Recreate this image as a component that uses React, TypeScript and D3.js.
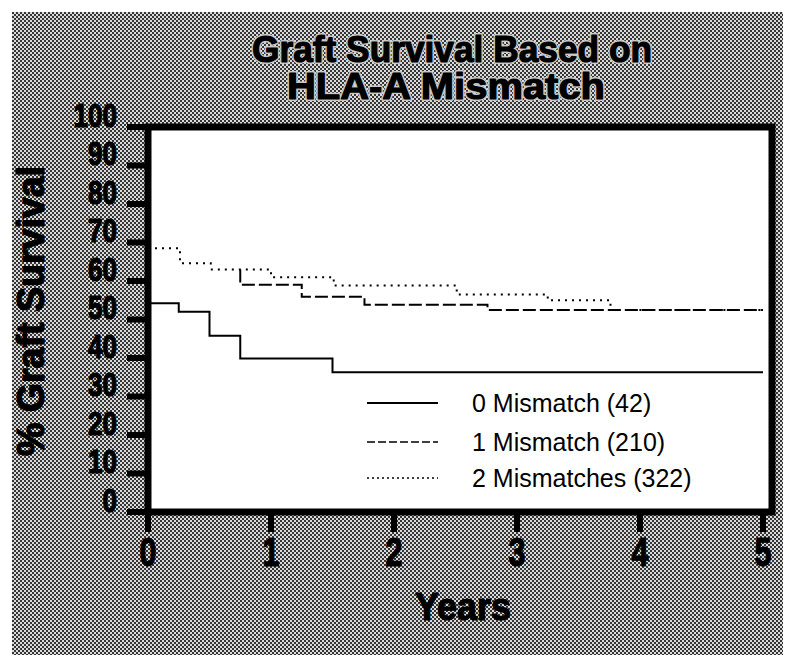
import React from 'react';
import * as d3 from 'd3';

// chart values
const yearTicks = [0, 1, 2, 3, 4, 5];
const pctTicks = [0, 10, 20, 30, 40, 50, 60, 70, 80, 90, 100];

const zeroTime = [0, 0.25, 0.5, 0.75, 1.5, 5];
const zeroPct = [54.2, 52.0, 45.8, 39.9, 36.3, 36.3];

const oneTime = [0.75, 0.75, 1.25, 1.76, 2.76, 5];
const onePct = [63.0, 59.0, 55.9, 53.8, 52.5, 52.5];

const twoTime = [0, 0.26, 0.51, 1.0, 1.51, 2.51, 3.25, 3.76, 5];
const twoPct = [68.5, 64.6, 63.0, 61.0, 58.8, 56.5, 55.0, 52.5, 52.5];

const legendLabels = ['0 Mismatch (42)', '1 Mismatch (210)', '2 Mismatches (322)'];
const titleLines = ['Graft Survival Based on', 'HLA-A Mismatch'];

const W = 789;
const H = 662;
const font = '"Liberation Sans", Arial, Helvetica, sans-serif';

// heavy black text, like the old bold face in the scan
const Heavy = ({ halo, ...p }: any) => (
  <g>
    {halo && <text {...p} fill="none" stroke="#c8c8c8" strokeWidth={4} strokeLinejoin="round" />}
    <text {...p} fill="#000" stroke="#000" strokeWidth={1.2} strokeLinejoin="round" />
  </g>
);

const App = () => {
  const x = d3.scaleLinear().domain([0, 5]).range([148, 763]);
  const y = d3.scaleLinear().domain([0, 100]).range([512, 127]);

  const line = d3.line<[number, number]>()
    .x(d => x(d[0]))
    .y(d => y(d[1]))
    .curve(d3.curveStepAfter);

  const series = [
    { pts: zeroTime.map((t, i) => [t, zeroPct[i]] as [number, number]), dash: null, legendDash: null },
    { pts: oneTime.map((t, i) => [t, onePct[i]] as [number, number]), dash: '13 4', legendDash: '8 3' },
    { pts: twoTime.map((t, i) => [t, twoPct[i]] as [number, number]), dash: '2 5', legendDash: '2 3' },
  ];

  const legendY = [403, 442, 478];

  return (
    <svg width={W} height={H} style={{ position: 'absolute', left: 0, top: 0, background: '#fff' }}>
      <defs>
        <pattern id="halftone" width="4" height="4" patternUnits="userSpaceOnUse">
          <rect width="4" height="4" fill="#dadada" />
          <rect x="0" y="0" width="2" height="2" fill="#353535" />
          <rect x="2" y="2" width="2" height="2" fill="#353535" />
        </pattern>
      </defs>

      <rect x={12} y={12} width={771} height={643} fill="url(#halftone)" />

      {/* title */}
      <g fontFamily={font} fontWeight="bold" fontSize={37}>
        <Heavy halo x={452} y={62} textAnchor="middle" textLength={400} lengthAdjust="spacingAndGlyphs">{titleLines[0]}</Heavy>
        <Heavy halo x={446} y={99} textAnchor="middle" textLength={318} lengthAdjust="spacingAndGlyphs">{titleLines[1]}</Heavy>
      </g>

      {/* plot box */}
      <rect x={x(0)} y={y(100)} width={772 - x(0)} height={y(0) - y(100)} fill="#fff" stroke="#000" strokeWidth={7} />

      {/* y ticks */}
      {pctTicks.map(v => (
        <line key={'yt' + v} x1={127} x2={x(0)} y1={y(v)} y2={y(v)} stroke="#000" strokeWidth={6} />
      ))}
      {/* x ticks */}
      {yearTicks.map(v => (
        <line key={'xt' + v} x1={x(v)} x2={x(v)} y1={y(0)} y2={y(0) + 20} stroke="#000" strokeWidth={6} />
      ))}

      <g fontFamily={font} fontWeight="bold">
        {pctTicks.map(v => (
          <Heavy key={'yl' + v} x={117} y={y(v) - 12} dy="0.36em" textAnchor="end" fontSize={33}
            textLength={String(v).length * 14.5} lengthAdjust="spacingAndGlyphs">{v}</Heavy>
        ))}
        {yearTicks.map(v => (
          <Heavy key={'xl' + v} x={x(v)} y={552} dy="0.36em" textAnchor="middle" fontSize={40}
            textLength={17} lengthAdjust="spacingAndGlyphs">{v}</Heavy>
        ))}
      </g>

      {/* axis titles */}
      <g fontFamily={font} fontWeight="bold" fontSize={38}>
        <Heavy x={463} y={620} textAnchor="middle" textLength={96} lengthAdjust="spacingAndGlyphs">Years</Heavy>
        <Heavy transform="translate(44,311) rotate(-90)" textAnchor="middle" textLength={290} lengthAdjust="spacingAndGlyphs">% Graft Survival</Heavy>
      </g>

      {/* survival curves */}
      {series.map((s, i) => (
        <path key={'s' + i} d={line(s.pts) || ''} fill="none" stroke="#000" strokeWidth={2}
          strokeDasharray={s.dash || undefined} />
      ))}

      {/* legend */}
      {series.map((s, i) => (
        <g key={'lg' + i}>
          <line x1={367} x2={438} y1={legendY[i]} y2={legendY[i]} stroke="#000"
            strokeWidth={i === 0 ? 2 : 1.5} strokeDasharray={s.legendDash || undefined} />
          <text x={472} y={legendY[i]} dy="0.36em" fontFamily={font} fontSize={25} fill="#000">{legendLabels[i]}</text>
        </g>
      ))}
    </svg>
  );
};

export default App;
